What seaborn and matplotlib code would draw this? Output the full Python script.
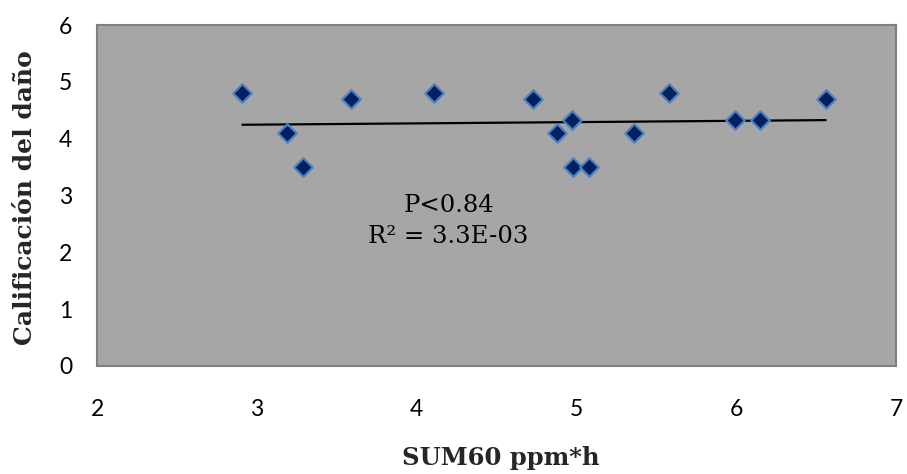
import matplotlib
matplotlib.use("Agg")
import matplotlib.pyplot as plt
import seaborn as sns
import pandas as pd

# Data
sum60 = [2.91, 3.19, 3.29, 3.59, 4.11, 4.73, 4.88, 4.97, 4.98, 5.08,
         5.36, 5.58, 5.99, 6.15, 6.56]
calificacion = [4.8, 4.1, 3.5, 4.7, 4.8, 4.7, 4.1, 4.33, 3.5, 3.5,
                4.1, 4.8, 4.33, 4.33, 4.7]
x_ticks = [2, 3, 4, 5, 6, 7]
y_ticks = [0, 1, 2, 3, 4, 5, 6]
x_label = "SUM60 ppm*h"
y_label = "Calificación del daño"
annot_lines = ["P<0.84", "R² = 3.3E-03"]

df = pd.DataFrame({"sum60": sum60, "calif": calificacion})

sns.set_style("white")
plt.rcParams["font.family"] = ["Lato", "DejaVu Sans"]

fig = plt.figure(figsize=(9.07, 4.74), dpi=100)
ax = fig.add_axes([97 / 907, 1 - 366 / 474, 799 / 907, 341 / 474])
ax.set_facecolor("#A6A6A6")

sns.regplot(data=df, x="sum60", y="calif", ax=ax, scatter=False, ci=None,
            truncate=True, line_kws={"color": "black", "lw": 1.6, "zorder": 2})
sns.scatterplot(data=df, x="sum60", y="calif", ax=ax, marker="D", s=90,
                color="#002060", edgecolor="#4F81BD", linewidth=1.6, zorder=3)

ax.set_xlim(2, 7)
ax.set_ylim(0, 6)
ax.set_xticks(x_ticks)
ax.set_yticks(y_ticks)
ax.tick_params(axis="both", length=0, labelsize=16.5, colors="black")
ax.tick_params(axis="x", pad=24)
ax.tick_params(axis="y", pad=18)

for sp in ax.spines.values():
    sp.set_visible(True)
    sp.set_color("#7F7F7F")
    sp.set_linewidth(1.5)

ax.set_xlabel(x_label, fontfamily="DejaVu Serif", fontweight="bold",
              fontsize=17.5, va="center")
ax.xaxis.set_label_coords(0.505, -0.27)
ax.set_ylabel(y_label, fontfamily="DejaVu Serif", fontweight="bold",
              fontsize=18, va="center")
ax.yaxis.set_label_coords(-0.09, 0.493)

ax.text(4.20, 2.83, annot_lines[0], fontfamily="DejaVu Serif", fontsize=17.5,
        ha="center", va="center", color="black")
ax.text(4.20, 2.27, annot_lines[1], fontfamily="DejaVu Serif", fontsize=17.5,
        ha="center", va="center", color="black")

fig.savefig("out.png", dpi=100)
